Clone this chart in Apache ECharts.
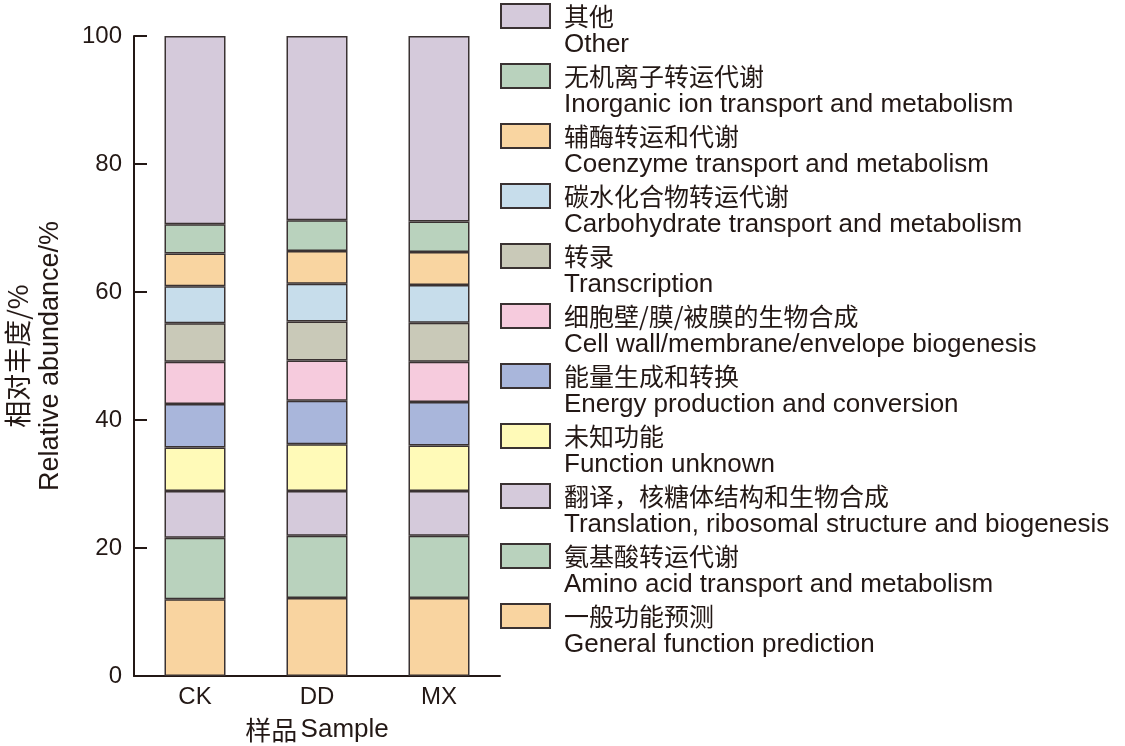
<!DOCTYPE html>
<html>
<head>
<meta charset="utf-8">
<script src="https://cdn.jsdelivr.net/npm/echarts@6/dist/echarts.min.js"></script>
<style>
html,body{margin:0;padding:0;background:#fff;}
#chart{width:1125px;height:746px;}
</style>
</head>
<body>
<div id="chart"></div>
<script>
// ---- data ----
const categories = ['CK', 'DD', 'MX'];
// stacked bottom -> top
const seriesCn = ['一般功能预测', '氨基酸转运代谢', '翻译，核糖体结构和生物合成', '未知功能', '能量生成和转换',
  '细胞壁/膜/被膜的生物合成', '转录', '碳水化合物转运代谢', '辅酶转运和代谢', '无机离子转运代谢', '其他'];
const seriesEn = ['General function prediction', 'Amino acid transport and metabolism',
  'Translation, ribosomal structure and biogenesis', 'Function unknown', 'Energy production and conversion',
  'Cell wall/membrane/envelope biogenesis', 'Transcription', 'Carbohydrate transport and metabolism',
  'Coenzyme transport and metabolism', 'Inorganic ion transport and metabolism', 'Other'];
const generalFunction = [12.0, 12.2, 12.2];
const aminoAcid = [9.6, 9.7, 9.7];
const translation = [7.3, 7.0, 7.0];
const functionUnknown = [6.8, 7.3, 7.1];
const energy = [6.8, 6.8, 6.8];
const cellWall = [6.6, 6.3, 6.3];
const transcription = [6.0, 6.1, 6.1];
const carbohydrate = [5.8, 5.9, 5.9];
const coenzyme = [5.1, 5.1, 5.15];
const inorganicIon = [4.6, 4.8, 4.75];
const other = [29.4, 28.8, 29.0];
const yTicks = [0, 20, 40, 60, 80, 100];

const seriesValues = [generalFunction, aminoAcid, translation, functionUnknown, energy,
  cellWall, transcription, carbohydrate, coenzyme, inorganicIon, other];
const colors = ['#f9d4a0', '#b9d2bd', '#d5cadb', '#fffab8', '#a9b6db',
  '#f6cbdd', '#c9c9b8', '#c7ddeb', '#f9d5a1', '#b9d2bd', '#d5cadb'];

const ink = '#231815';
const latin = '"Liberation Sans", Arial, sans-serif';
const cjk = '"Noto Sans CJK SC", sans-serif';

const chart = echarts.init(document.getElementById('chart'), null, {renderer: 'canvas'});

const series = seriesCn.map((name, i) => ({
  name: name,
  type: 'bar',
  stack: 'total',
  barWidth: 61,
  data: seriesValues[i],
  itemStyle: {color: colors[i], borderColor: '#3a3232', borderWidth: 1.5},
  emphasis: {disabled: true}
}));

const option = {
  animation: false,
  grid: {left: 134, right: 625, top: 36, bottom: 70, containLabel: false, outerBoundsMode: 'none'},
  legend: {
    orient: 'vertical',
    left: 500,
    top: -19,
    padding: 0,
    icon: 'rect',
    itemWidth: 49,
    itemHeight: 24,
    itemGap: -17,
    selectedMode: false,
    data: seriesCn.slice().reverse(),
    formatter: function (name) {
      const i = seriesCn.indexOf(name);
      return '{s| }\n{c|' + name + '}\n{e|' + seriesEn[i] + '}';
    },
    textStyle: {
      color: ink,
      rich: {
        s: {fontSize: 12, lineHeight: 29, padding: [0, 0, 0, 9]},
        c: {fontFamily: cjk, fontSize: 25, lineHeight: 29, color: ink, padding: [0, 0, 0, 9]},
        e: {fontFamily: latin, fontSize: 26, lineHeight: 29, color: ink, padding: [0, 0, 0, 9]}
      }
    }
  },
  xAxis: {
    type: 'category',
    data: categories,
    axisLine: {show: true, lineStyle: {color: ink, width: 2}},
    axisTick: {show: false},
    axisLabel: {color: ink, fontFamily: latin, fontSize: 24, margin: 9},
    name: '{c|样品} {e|Sample}',
    nameLocation: 'middle',
    nameGap: 41,
    nameTextStyle: {
      color: ink,
      rich: {
        c: {fontFamily: cjk, fontSize: 26, color: ink},
        e: {fontFamily: latin, fontSize: 26, color: ink}
      }
    }
  },
  yAxis: {
    type: 'value',
    min: yTicks[0],
    max: yTicks[yTicks.length - 1],
    interval: 20,
    splitLine: {show: false},
    axisLine: {show: true, lineStyle: {color: ink, width: 2}},
    axisTick: {show: true, inside: true, length: 13, lineStyle: {color: ink, width: 2}},
    axisLabel: {color: ink, fontFamily: latin, fontSize: 24, margin: 12},
    name: '{c|相对丰度/%}\n{e|Relative abundance/%}',
    nameLocation: 'middle',
    nameRotate: 90,
    nameGap: 67,
    nameTextStyle: {
      color: ink,
      rich: {
        c: {fontFamily: cjk, fontSize: 27, lineHeight: 33, color: ink},
        e: {fontFamily: latin, fontSize: 27, lineHeight: 33, color: ink}
      }
    }
  },
  series: series
};
chart.setOption(option);
</script>
</body>
</html>
